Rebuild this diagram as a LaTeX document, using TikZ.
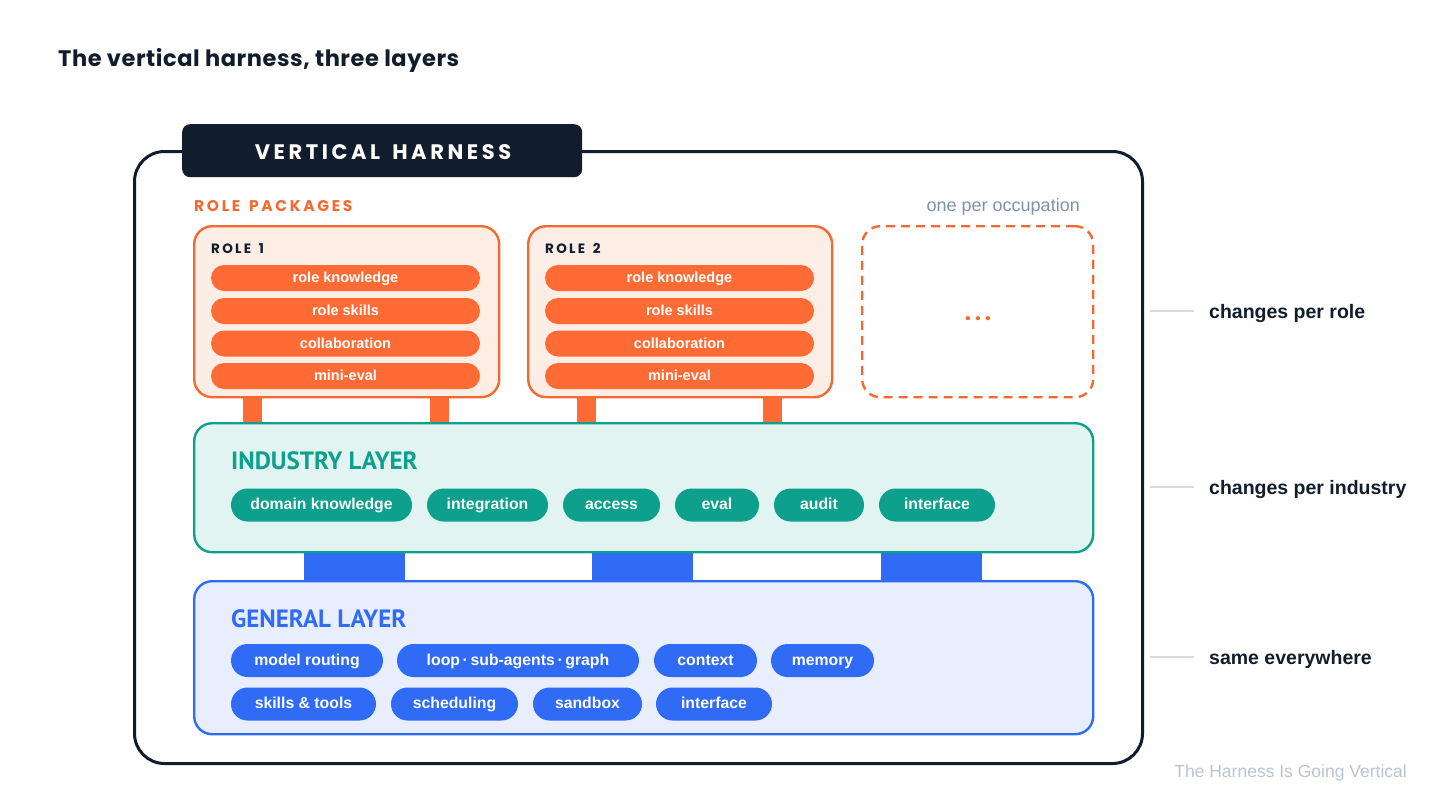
\documentclass[tikz,border=0pt]{standalone}
\usepackage{fontspec}
\setmainfont{Liberation Sans}
\newfontfamily\headfont[LetterSpace=2.5]{Poppins}
\newfontfamily\spacedfont[LetterSpace=17,WordSpace=1.5]{Poppins}
\newfontfamily\condfont{PT Sans}
\definecolor{navy}{HTML}{111C2C}
\definecolor{orng}{HTML}{FF6B35}
\definecolor{orngline}{HTML}{F26A32}
\definecolor{rolefill}{HTML}{FDEEE5}
\definecolor{teal}{HTML}{0DA08C}
\definecolor{tealfill}{HTML}{E1F4F1}
\definecolor{blu}{HTML}{2F6BF5}
\definecolor{blufill}{HTML}{E8EEFD}
\definecolor{graylbl}{HTML}{8092AB}
\definecolor{sideline}{HTML}{D5DBE5}
\definecolor{footgray}{HTML}{BAC4D2}
\tikzset{
  box/.style={draw, line width=2.4pt, rounded corners=18pt, inner sep=0pt, anchor=north west},
  pillbase/.style={text=white, inner sep=0pt, text height=2ex, text depth=0.3ex},
  opill/.style={pillbase, fill=orng, rounded corners=13pt, minimum height=26pt, font=\fontsize{14.5}{16}\selectfont\bfseries},
  tpill/.style={pillbase, fill=teal, rounded corners=16.5pt, minimum height=33pt, font=\fontsize{15.8}{18}\selectfont\bfseries},
  bpill/.style={pillbase, fill=blu, rounded corners=16.5pt, minimum height=33pt, font=\fontsize{15.8}{18}\selectfont\bfseries},
  ocon/.style={fill=orng, inner sep=0pt, minimum width=19pt, minimum height=28pt},
  bcon/.style={fill=blu, inner sep=0pt, minimum width=101pt, minimum height=33pt},
  side/.style={anchor=base west, inner sep=0pt, font=\fontsize{19.5}{22}\selectfont\bfseries, text=navy},
  sline/.style={draw=sideline, line width=1.5pt},
}
\begin{document}
\begin{tikzpicture}[x=1pt,y=-1pt]
\useasboundingbox (0,0) rectangle (1456,807);
\fill[white] (0,0) rectangle (1456,807);
% title
\node[anchor=base west, inner sep=0pt, text=navy, font=\headfont\fontsize{22.5}{26}\selectfont\bfseries] (title) at (58,66) {The vertical harness, three layers};
% outer frame
\node[draw=navy, line width=3pt, rounded corners=30pt, minimum width=1008pt, minimum height=612pt, anchor=north west, inner sep=0pt] (frame) at (133,150) {};
\node[fill=navy, rounded corners=8pt, minimum width=400pt, minimum height=53pt, anchor=north west, inner sep=0pt] (tab) at (182,124) {};
\node[text=white, anchor=base, inner sep=0pt, font=\spacedfont\fontsize{21}{24}\selectfont\bfseries] (tabtxt) at (383,159.5) {VERTICAL HARNESS};
% role packages header
\node[anchor=base west, inner sep=0pt, text=orngline, font=\spacedfont\fontsize{15.5}{18}\selectfont\bfseries] (rp) at (194,211) {ROLE PACKAGES};
\node[anchor=base east, inner sep=0pt, text=graylbl, font=\fontsize{18}{20}\selectfont] (opo) at (1080,211) {one per occupation};
% connectors (behind boxes)
\node[ocon] (c1) at (252.5,409) {};
\node[ocon] (c2) at (439.5,409) {};
\node[ocon] (c3) at (586,409) {};
\node[ocon] (c4) at (772.5,409) {};
\node[bcon] (b1) at (354,565) {};
\node[bcon] (b2) at (642.5,565) {};
\node[bcon] (b3) at (931.5,565) {};
% role boxes
\node[box, draw=orngline, fill=rolefill, minimum width=305pt, minimum height=171pt] (role1) at (193,225) {};
\node[box, draw=orngline, fill=rolefill, minimum width=304pt, minimum height=171pt] (role2) at (527,225) {};
\node[box, draw=orngline, fill=white, dashed, dash pattern=on 9pt off 6pt, minimum width=231pt, minimum height=171pt] (role3) at (861,225) {};
\node[text=orngline, anchor=base, inner sep=0pt, font=\spacedfont\fontsize{22}{24}\selectfont\bfseries] (dots) at (978,320) {...};
\node[anchor=base west, inner sep=0pt, text=navy, font=\spacedfont\fontsize{13.5}{16}\selectfont\bfseries] (r1t) at (211,253) {ROLE 1};
\node[anchor=base west, inner sep=0pt, text=navy, font=\spacedfont\fontsize{13.5}{16}\selectfont\bfseries] (r2t) at (545,253) {ROLE 2};
\node[opill, minimum width=269pt] (r1a) at (345.5,278) {role knowledge};
\node[opill, minimum width=269pt] (r1b) at (345.5,311) {role skills};
\node[opill, minimum width=269pt] (r1c) at (345.5,343.5) {collaboration};
\node[opill, minimum width=269pt] (r1d) at (345.5,376) {mini-eval};
\node[opill, minimum width=269pt] (r2a) at (679.5,278) {role knowledge};
\node[opill, minimum width=269pt] (r2b) at (679.5,311) {role skills};
\node[opill, minimum width=269pt] (r2c) at (679.5,343.5) {collaboration};
\node[opill, minimum width=269pt] (r2d) at (679.5,376) {mini-eval};
% industry layer
\node[box, draw=teal, fill=tealfill, minimum width=899pt, minimum height=129pt] (ind) at (193,422) {};
\node[anchor=base west, inner sep=0pt, text=teal, font=\condfont\fontsize{25}{28}\selectfont\bfseries] (indt) at (231,469) {INDUSTRY LAYER};
\node[tpill, minimum width=181pt] (i1) at (321.5,505) {domain knowledge};
\node[tpill, minimum width=121pt] (i2) at (487.5,505) {integration};
\node[tpill, minimum width=97pt] (i3) at (611.5,505) {access};
\node[tpill, minimum width=84pt] (i4) at (717,505) {eval};
\node[tpill, minimum width=90pt] (i5) at (819,505) {audit};
\node[tpill, minimum width=116pt] (i6) at (937,505) {interface};
% general layer
\node[box, draw=blu, fill=blufill, minimum width=899pt, minimum height=153pt] (gen) at (193,580) {};
\node[anchor=base west, inner sep=0pt, text=blu, font=\condfont\fontsize{25}{28}\selectfont\bfseries] (gent) at (231,627) {GENERAL LAYER};
\node[bpill, minimum width=152pt] (g1) at (307,660.5) {model routing};
\node[bpill, minimum width=242pt] (g2) at (518,660.5) {loop\,\textperiodcentered\,sub-agents\,\textperiodcentered\,graph};
\node[bpill, minimum width=103pt] (g3) at (705.5,660.5) {context};
\node[bpill, minimum width=103pt] (g4) at (822.5,660.5) {memory};
\node[bpill, minimum width=145pt] (g5) at (303.5,704) {skills \& tools};
\node[bpill, minimum width=127pt] (g6) at (454.5,704) {scheduling};
\node[bpill, minimum width=109pt] (g7) at (587.5,704) {sandbox};
\node[bpill, minimum width=116pt] (g8) at (714,704) {interface};
% side labels
\coordinate (s1a) at (1150,311); \coordinate (s1b) at (1194,311);
\coordinate (s2a) at (1150,487); \coordinate (s2b) at (1194,487);
\coordinate (s3a) at (1150,657); \coordinate (s3b) at (1194,657);
\draw[sline] (s1a) -- (s1b);
\draw[sline] (s2a) -- (s2b);
\draw[sline] (s3a) -- (s3b);
\node[side] (l1) at (1209,318) {changes per role};
\node[side] (l2) at (1209,494) {changes per industry};
\node[side] (l3) at (1209,664) {same everywhere};
% footer
\node[anchor=base east, inner sep=0pt, text=footgray, font=\fontsize{17.5}{20}\selectfont] (foot) at (1407,777) {The Harness Is Going Vertical};
\end{tikzpicture}
\end{document}
